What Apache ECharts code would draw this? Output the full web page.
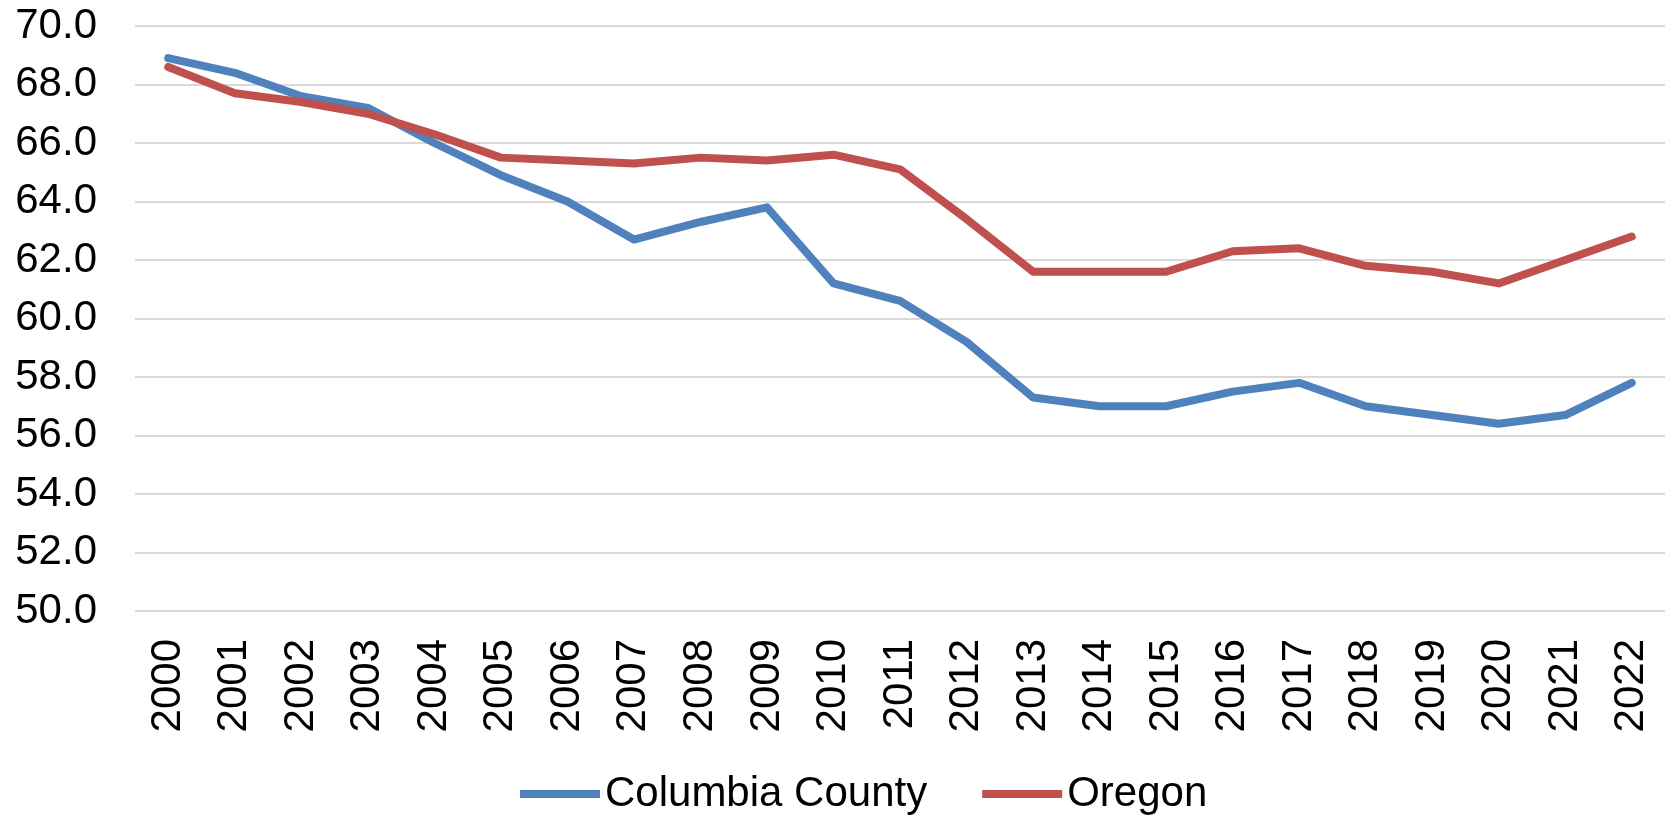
<!DOCTYPE html>
<html>
<head>
<meta charset="utf-8">
<script src="https://cdn.jsdelivr.net/npm/echarts@6/dist/echarts.min.js"></script>
<style>
  html, body { margin: 0; padding: 0; background: #fff; }
  #chart { width: 1665px; height: 826px; }
</style>
</head>
<body>
<div id="chart"></div>
<script>
const years = [
  "2000", "2001", "2002", "2003", "2004", "2005", "2006", "2007", "2008", "2009", "2010", "2011",
  "2012", "2013", "2014", "2015", "2016", "2017", "2018", "2019", "2020", "2021", "2022",
];
const columbiaCounty = [
  68.9, 68.4, 67.6, 67.2, 66.0, 64.9, 64.0, 62.7, 63.3, 63.8, 61.2, 60.6,
  59.2, 57.3, 57.0, 57.0, 57.5, 57.8, 57.0, 56.7, 56.4, 56.7, 57.8,
];
const oregon = [
  68.6, 67.7, 67.4, 67.0, 66.3, 65.5, 65.4, 65.3, 65.5, 65.4, 65.6, 65.1,
  63.4, 61.6, 61.6, 61.6, 62.3, 62.4, 61.8, 61.6, 61.2, 62.0, 62.8,
];
const yMin = 50;
const yMax = 70;
const yStep = 2;

const font = "Liberation Sans";

const option = {
    animation: false,
    textStyle: { fontFamily: font },
    grid: {
        left: 135,
        right: -20,
        top: 26,
        bottom: 215,
    },
    legend: {
        left: 515,
        bottom: 6,
        icon: "rect",
        itemWidth: 80,
        itemHeight: 8,
        itemGap: 55,
        textStyle: { fontSize: 42, color: "#000", fontFamily: font },
        data: ["Columbia County", "Oregon"],
    },
    xAxis: {
        type: "category",
        data: years,
        boundaryGap: true,
        axisLine: { show: false },
        axisTick: { show: false },
        axisLabel: {
            rotate: 90,
            margin: 28,
            fontSize: 42,
            color: "#000",
            interval: 0,
        },
    },
    yAxis: {
        type: "value",
        min: yMin,
        max: yMax,
        interval: yStep,
        axisLine: { show: false },
        axisTick: { show: false },
        axisLabel: {
            margin: 38,
            fontSize: 42,
            color: "#000",
            formatter: (v) => v.toFixed(1),
        },
        splitLine: {
            lineStyle: { color: "#D9D9D9", width: 2 },
        },
    },
    series: [
        {
            name: "Columbia County",
            type: "line",
            data: columbiaCounty,
            showSymbol: false,
            lineStyle: { color: "#4F81BD", width: 8, cap: "round", join: "round" },
            itemStyle: { color: "#4F81BD" },
        },
        {
            name: "Oregon",
            type: "line",
            data: oregon,
            showSymbol: false,
            lineStyle: { color: "#C0504D", width: 8, cap: "round", join: "round" },
            itemStyle: { color: "#C0504D" },
        },
    ],
};

const chart = echarts.init(document.getElementById("chart"), null, { renderer: "canvas" });
chart.setOption(option);
</script>
</body>
</html>
